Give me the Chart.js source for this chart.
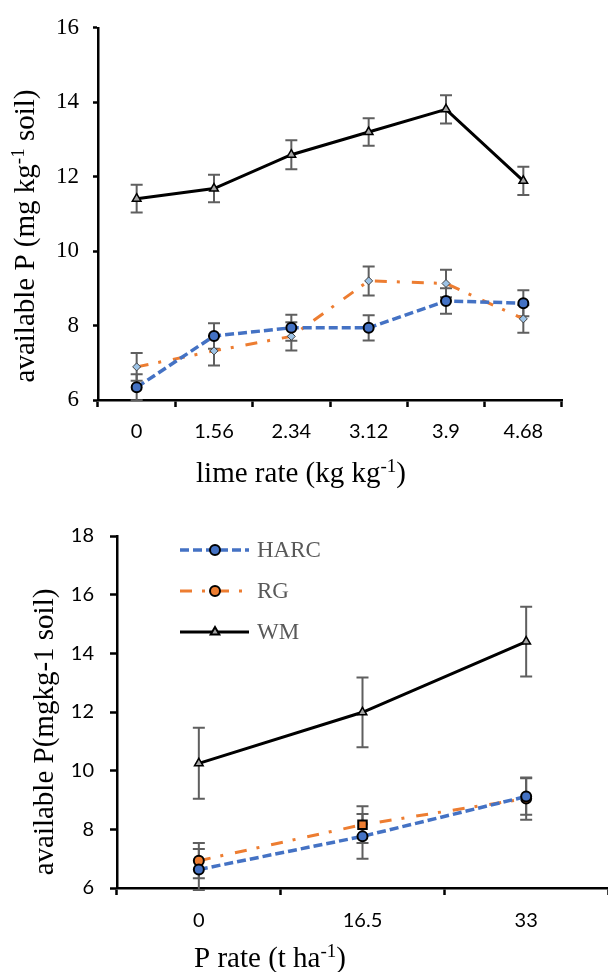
<!DOCTYPE html>
<html>
<head>
<meta charset="utf-8">
<script src="https://cdn.jsdelivr.net/npm/chart.js@4.4.1/dist/chart.umd.min.js"></script>
<style>
    body { margin: 0; background: #fff; }
    #top-box { position: absolute; left: 0; top: 0; width: 608px; height: 490px; }
    #bottom-box { position: absolute; left: 0; top: 490px; width: 608px; height: 482px; }
</style>
</head>
<body>
<div id="top-box"><canvas id="lime-chart"></canvas></div>
<div id="bottom-box"><canvas id="prate-chart"></canvas></div>
<script>
"use strict";

// lime rate chart
const limeRates = ['0', '1.56', '2.34', '3.12', '3.9', '4.68'];
const limeHarc = [6.34, 7.72, 7.94, 7.94, 8.66, 8.6];
const limeHarcErr = [0.35, 0.34, 0.35, 0.34, 0.34, 0.35];
const limeRg = [6.89, 7.32, 7.71, 9.2, 9.13, 8.18];
const limeRgErr = [0.37, 0.39, 0.38, 0.39, 0.37, 0.37];
const limeWm = [11.41, 11.68, 12.59, 13.2, 13.81, 11.89];
const limeWmErr = [0.37, 0.37, 0.39, 0.37, 0.38, 0.38];
const limeTicks = [6, 8, 10, 12, 14, 16];

// P rate chart
const pRates = ['0', '16.5', '33'];
const pHarc = [6.63, 7.76, 9.12];
const pHarcErr = [0.7, 0.76, 0.62];
const pRg = [6.93, 8.16, 9.05];
const pRgErr = [0.6, 0.63, 0.72];
const pWm = [10.25, 11.99, 14.4];
const pWmErr = [1.21, 1.19, 1.19];
const pTicks = [6, 8, 10, 12, 14, 16, 18];

const seriesNames = ['HARC', 'RG', 'WM'];

const BLUE = '#4472C4';
const ORANGE = '#ED7D31';
const serif = '"Liberation Serif", "Times New Roman", serif';
const sans = 'Lato, "Noto Sans", sans-serif';

Chart.defaults.animation = false;
Chart.defaults.devicePixelRatio = 1;

// error bars from each dataset's errors array
const errorBars = {
    id: 'errorBars',
    beforeDatasetsDraw(chart) {
        const ctx = chart.ctx;
        const yScale = chart.scales.y;
        ctx.save();
        ctx.strokeStyle = '#5f5f5f';
        ctx.lineWidth = 2;
        chart.data.datasets.forEach((ds, i) => {
            const meta = chart.getDatasetMeta(i);
            meta.data.forEach((pt, j) => {
                const hi = yScale.getPixelForValue(ds.data[j] + ds.errors[j]);
                const lo = yScale.getPixelForValue(ds.data[j] - ds.errors[j]);
                ctx.beginPath();
                ctx.moveTo(pt.x, hi);
                ctx.lineTo(pt.x, lo);
                ctx.moveTo(pt.x - 6, hi);
                ctx.lineTo(pt.x + 6, hi);
                ctx.moveTo(pt.x - 6, lo);
                ctx.lineTo(pt.x + 6, lo);
                ctx.stroke();
            });
        });
        ctx.restore();
    }
};

// axis titles with superscripts
function drawRich(ctx, parts, x, y, rotate) {
    ctx.save();
    ctx.translate(x, y);
    if (rotate) ctx.rotate(-Math.PI / 2);
    ctx.fillStyle = '#000';
    ctx.textBaseline = 'alphabetic';
    let total = 0;
    parts.forEach(p => {
        ctx.font = (p.sup ? '19px ' : '29px ') + serif;
        total += ctx.measureText(p.text).width;
    });
    let cx = -total / 2;
    parts.forEach(p => {
        ctx.font = (p.sup ? '19px ' : '29px ') + serif;
        ctx.fillText(p.text, cx, p.sup ? -10 : 0);
        cx += ctx.measureText(p.text).width;
    });
    ctx.restore();
}

const axisTitles = {
    id: 'axisTitles',
    afterDraw(chart, args, opts) {
        const ctx = chart.ctx;
        drawRich(ctx, opts.x.parts, opts.x.cx, opts.x.cy, false);
        drawRich(ctx, opts.y.parts, opts.y.cx, opts.y.cy, true);
    }
};

// legend drawn inside the plot like the Excel one
const insideLegend = {
    id: 'insideLegend',
    afterDraw(chart, args, opts) {
        if (!opts.show) return;
        const ctx = chart.ctx;
        const area = chart.chartArea;
        const rows = [14, 55, 96];
        chart.data.datasets.forEach((ds, i) => {
            const y = area.top + rows[i];
            const x0 = area.left + 63;
            ctx.save();
            ctx.strokeStyle = ds.borderColor;
            ctx.lineWidth = ds.borderWidth;
            ctx.setLineDash(ds.borderDash || []);
            ctx.beginPath();
            ctx.moveTo(x0, y);
            ctx.lineTo(x0 + 69, y);
            ctx.stroke();
            ctx.setLineDash([]);
            ctx.fillStyle = ds.legendFill;
            ctx.strokeStyle = '#000';
            ctx.lineWidth = 2;
            Chart.helpers.drawPoint(ctx, {
                pointStyle: ds.legendStyle,
                radius: 5,
                rotation: 0,
                borderWidth: 2
            }, x0 + 35, y);
            ctx.fillStyle = '#595959';
            ctx.font = '23px ' + serif;
            ctx.textBaseline = 'middle';
            ctx.fillText(ds.label, x0 + 77, y + 1);
            ctx.restore();
        });
    }
};

function makeScales(tickValues, yWidth, xHeight, yTickLen, yPad, xPad, yFont) {
    return {
        x: {
            offset: true,
            grid: {
                offset: true,
                drawOnChartArea: false,
                tickLength: 7,
                tickColor: '#000',
                tickWidth: 2.5
            },
            border: { color: '#000', width: 2.5 },
            ticks: {
                color: '#000',
                padding: xPad,
                font: { family: sans, size: 20 }
            },
            afterFit: (scale) => {
                scale.height = xHeight;
                scale.paddingLeft = 0;
                scale.paddingRight = 0;
            }
        },
        y: {
            min: tickValues[0],
            max: tickValues[tickValues.length - 1],
            afterBuildTicks: (scale) => {
                scale.ticks = tickValues.map(v => ({ value: v }));
            },
            grid: {
                drawOnChartArea: false,
                tickLength: yTickLen,
                tickColor: '#000',
                tickWidth: 2.5
            },
            border: { color: '#000', width: 2.5 },
            ticks: {
                color: '#000',
                padding: yPad,
                font: yFont
            },
            afterFit: (scale) => { scale.width = yWidth; }
        }
    };
}

new Chart(document.getElementById('lime-chart'), {
    type: 'line',
    data: {
        labels: limeRates,
        datasets: [
            {
                label: seriesNames[0],
                data: limeHarc,
                errors: limeHarcErr,
                borderColor: BLUE,
                borderWidth: 3.5,
                borderDash: [9, 4],
                pointStyle: 'circle',
                pointRadius: 5,
                pointBackgroundColor: BLUE,
                pointBorderColor: '#000',
                pointBorderWidth: 2
            },
            {
                label: seriesNames[1],
                data: limeRg,
                errors: limeRgErr,
                borderColor: ORANGE,
                borderWidth: 3,
                borderDash: [12, 10, 3, 12],
                pointStyle: 'rectRot',
                pointRadius: 4,
                pointBackgroundColor: '#9DC3E6',
                pointBorderColor: '#404040',
                pointBorderWidth: 1
            },
            {
                label: seriesNames[2],
                data: limeWm,
                errors: limeWmErr,
                borderColor: '#000',
                borderWidth: 3,
                pointStyle: 'triangle',
                pointRadius: 5,
                pointBackgroundColor: '#A5A5A5',
                pointBorderColor: '#000',
                pointBorderWidth: 1.5
            }
        ]
    },
    options: {
        responsive: true,
        maintainAspectRatio: false,
        layout: { autoPadding: false, padding: { left: 0, right: 46, top: 10, bottom: 0 } },
        scales: makeScales(limeTicks, 98, 90, 5, 14, 13, { family: serif, size: 23 }),
        plugins: {
            legend: { display: false },
            tooltip: { enabled: false },
            axisTitles: {
                x: { parts: [{ text: 'lime rate (kg kg' }, { text: '-1', sup: true }, { text: ')' }], cx: 301, cy: 482 },
                y: { parts: [{ text: 'available P (mg kg' }, { text: '-1', sup: true }, { text: ' soil)' }], cx: 34, cy: 236 }
            },
            insideLegend: { show: false }
        }
    },
    plugins: [errorBars, axisTitles, insideLegend]
});

new Chart(document.getElementById('prate-chart'), {
    type: 'line',
    data: {
        labels: pRates,
        datasets: [
            {
                label: seriesNames[0],
                data: pHarc,
                errors: pHarcErr,
                borderColor: BLUE,
                borderWidth: 3.5,
                borderDash: [9, 4],
                pointStyle: 'circle',
                pointRadius: 5,
                pointBackgroundColor: BLUE,
                pointBorderColor: '#000',
                pointBorderWidth: 2,
                legendStyle: 'circle',
                legendFill: BLUE
            },
            {
                label: seriesNames[1],
                data: pRg,
                errors: pRgErr,
                borderColor: ORANGE,
                borderWidth: 3,
                borderDash: [12, 10, 3, 12],
                pointStyle: ['circle', 'rect', 'circle'],
                pointRadius: [5, 6, 5],
                pointBackgroundColor: ORANGE,
                pointBorderColor: '#000',
                pointBorderWidth: 2,
                legendStyle: 'circle',
                legendFill: ORANGE
            },
            {
                label: seriesNames[2],
                data: pWm,
                errors: pWmErr,
                borderColor: '#000',
                borderWidth: 3,
                pointStyle: 'triangle',
                pointRadius: 5,
                pointBackgroundColor: '#A5A5A5',
                pointBorderColor: '#000',
                pointBorderWidth: 1.5,
                legendStyle: 'triangle',
                legendFill: '#A5A5A5'
            }
        ]
    },
    options: {
        responsive: true,
        maintainAspectRatio: false,
        layout: { autoPadding: false, padding: { left: 0, right: 0, top: 46, bottom: 0 } },
        scales: makeScales(pTicks, 117, 84, 7, 16, 14, { family: sans, size: 20 }),
        plugins: {
            legend: { display: false },
            tooltip: { enabled: false },
            axisTitles: {
                x: { parts: [{ text: 'P rate (t ha' }, { text: '-1', sup: true }, { text: ')' }], cx: 270, cy: 477 },
                y: { parts: [{ text: 'available P(mgkg-1 soil)' }], cx: 53, cy: 242 }
            },
            insideLegend: { show: true }
        }
    },
    plugins: [errorBars, axisTitles, insideLegend]
});
</script>
</body>
</html>
